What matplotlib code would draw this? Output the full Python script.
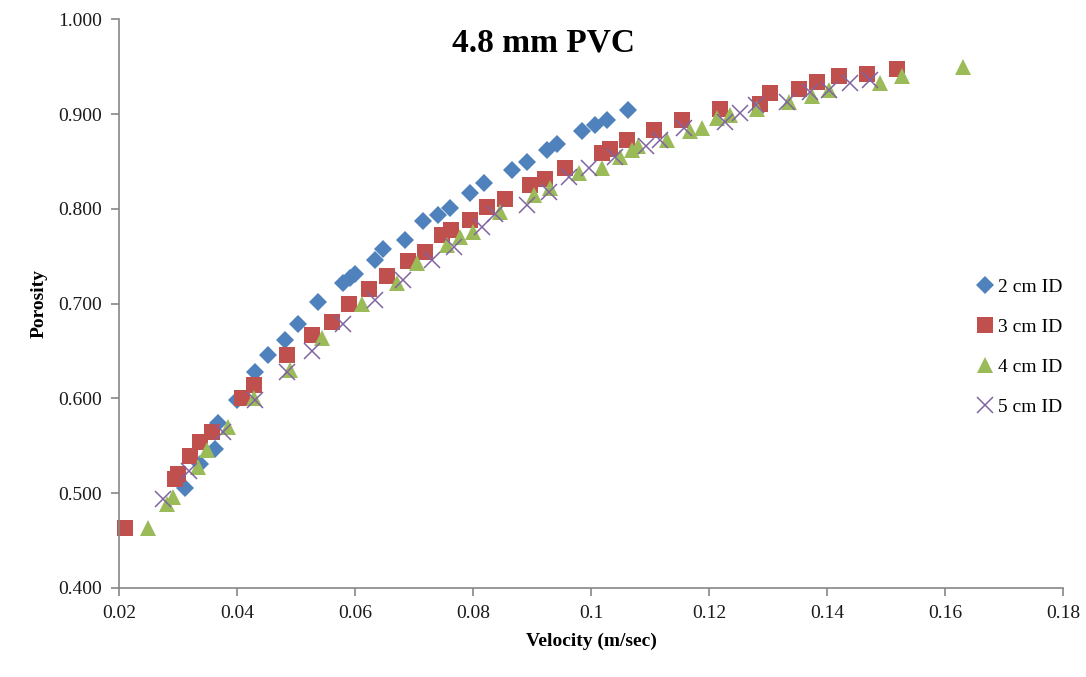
import matplotlib
matplotlib.use("Agg")
import matplotlib.pyplot as plt
from matplotlib.ticker import FuncFormatter

# 2 cm ID
v2 = [0.0312, 0.0337, 0.0363, 0.0368, 0.0400, 0.0431, 0.0453, 0.0481, 0.0504,
      0.0538, 0.0580, 0.0592, 0.0600, 0.0634, 0.0648, 0.0685, 0.0716, 0.0741,
      0.0761, 0.0795, 0.0818, 0.0866, 0.0891, 0.0925, 0.0942, 0.0984, 0.1007,
      0.1027, 0.1063]
p2 = [0.505, 0.531, 0.547, 0.574, 0.598, 0.628, 0.646, 0.662, 0.679,
      0.702, 0.722, 0.727, 0.731, 0.746, 0.758, 0.767, 0.787, 0.794,
      0.801, 0.817, 0.827, 0.841, 0.850, 0.862, 0.869, 0.882, 0.889,
      0.894, 0.904]

# 3 cm ID
v3 = [0.0210, 0.0295, 0.0300, 0.0320, 0.0337, 0.0357, 0.0408, 0.0428, 0.0484,
      0.0527, 0.0561, 0.0589, 0.0623, 0.0654, 0.0690, 0.0719, 0.0747, 0.0762,
      0.0795, 0.0823, 0.0854, 0.0897, 0.0922, 0.0956, 0.1018, 0.1032, 0.1061,
      0.1106, 0.1155, 0.1219, 0.1287, 0.1304, 0.1352, 0.1383, 0.1420, 0.1468,
      0.1518]
p3 = [0.463, 0.515, 0.520, 0.539, 0.554, 0.565, 0.600, 0.614, 0.646,
      0.667, 0.681, 0.700, 0.716, 0.729, 0.745, 0.755, 0.773, 0.778,
      0.788, 0.802, 0.811, 0.825, 0.832, 0.843, 0.859, 0.863, 0.873,
      0.883, 0.894, 0.906, 0.911, 0.922, 0.927, 0.934, 0.940, 0.943,
      0.948]

# 4 cm ID
v4 = [0.0249, 0.0281, 0.0292, 0.0334, 0.0349, 0.0385, 0.0428, 0.0490, 0.0544,
      0.0612, 0.0671, 0.0705, 0.0756, 0.0778, 0.0800, 0.0846, 0.0903, 0.0931,
      0.0979, 0.1018, 0.1049, 0.1069, 0.1080, 0.1129, 0.1168, 0.1188, 0.1213,
      0.1236, 0.1281, 0.1335, 0.1374, 0.1403, 0.1490, 0.1527, 0.1630]
p4 = [0.463, 0.489, 0.496, 0.528, 0.546, 0.570, 0.600, 0.630, 0.664,
      0.700, 0.722, 0.743, 0.762, 0.770, 0.776, 0.797, 0.815, 0.822,
      0.838, 0.843, 0.855, 0.862, 0.866, 0.873, 0.882, 0.885, 0.896,
      0.899, 0.906, 0.913, 0.919, 0.926, 0.933, 0.940, 0.950]

# 5 cm ID
v5 = [0.0275, 0.0318, 0.0377, 0.0430, 0.0484, 0.0527, 0.0580, 0.0634, 0.0682,
      0.0730, 0.0767, 0.0815, 0.0837, 0.0891, 0.0928, 0.0962, 0.0996, 0.1041,
      0.1094, 0.1117, 0.1157, 0.1227, 0.1253, 0.1280, 0.1332, 0.1371, 0.1403,
      0.1439, 0.1473]
p5 = [0.494, 0.523, 0.565, 0.598, 0.628, 0.650, 0.679, 0.704, 0.725,
      0.746, 0.760, 0.781, 0.795, 0.804, 0.818, 0.834, 0.843, 0.855,
      0.866, 0.873, 0.885, 0.892, 0.901, 0.910, 0.913, 0.924, 0.926,
      0.933, 0.936]

plt.rcParams['font.family'] = ['Liberation Serif', 'DejaVu Serif']

fig = plt.figure(figsize=(10.86, 6.77), dpi=100)
ax = fig.add_axes([0.1096, 0.1315, 0.8692, 0.8397])

ax.plot(v2, p2, 'D', color='#4F81BD', markersize=9, markeredgewidth=0, label='2 cm ID', clip_on=False)
ax.plot(v3, p3, 's', color='#C0504D', markersize=12, markeredgewidth=0, label='3 cm ID', clip_on=False)
ax.plot(v4, p4, '^', color='#9BBB59', markersize=12, markeredgewidth=0, label='4 cm ID', clip_on=False)
ax.plot(v5, p5, 'x', color='#8064A2', markersize=11, markeredgewidth=1.1, label='5 cm ID', clip_on=False)

ax.set_xlim(0.02, 0.18)
ax.set_ylim(0.4, 1.0)
ax.set_xticks([0.02, 0.04, 0.06, 0.08, 0.10, 0.12, 0.14, 0.16, 0.18])
ax.set_yticks([0.4, 0.5, 0.6, 0.7, 0.8, 0.9, 1.0])
ax.xaxis.set_major_formatter(FuncFormatter(lambda v, pos: '%g' % round(v, 2)))
ax.yaxis.set_major_formatter(FuncFormatter(lambda v, pos: '%.3f' % v))

for s in ['top', 'right']:
    ax.spines[s].set_visible(False)
for s in ['left', 'bottom']:
    ax.spines[s].set_color('#868686')
    ax.spines[s].set_linewidth(1.2)
ax.tick_params(direction='out', length=6, width=1.2, color='#868686',
               labelsize=14, labelcolor='#1a1a1a', pad=6)

ax.set_xlabel('Velocity (m/sec)', fontsize=14, fontweight='bold', labelpad=8)
ax.set_ylabel('Porosity', fontsize=14, fontweight='bold', labelpad=8)
fig.text(0.5, 0.937, '4.8 mm PVC', ha='center', va='center',
         fontsize=24, fontweight='bold')

leg = ax.legend(loc='center left', bbox_to_anchor=(0.898, 0.487),
                bbox_transform=fig.transFigure, frameon=False,
                fontsize=14, handletextpad=0.15, labelspacing=1.15,
                handlelength=1.0, borderpad=0, borderaxespad=0)

fig.savefig('out.png', dpi=100)
